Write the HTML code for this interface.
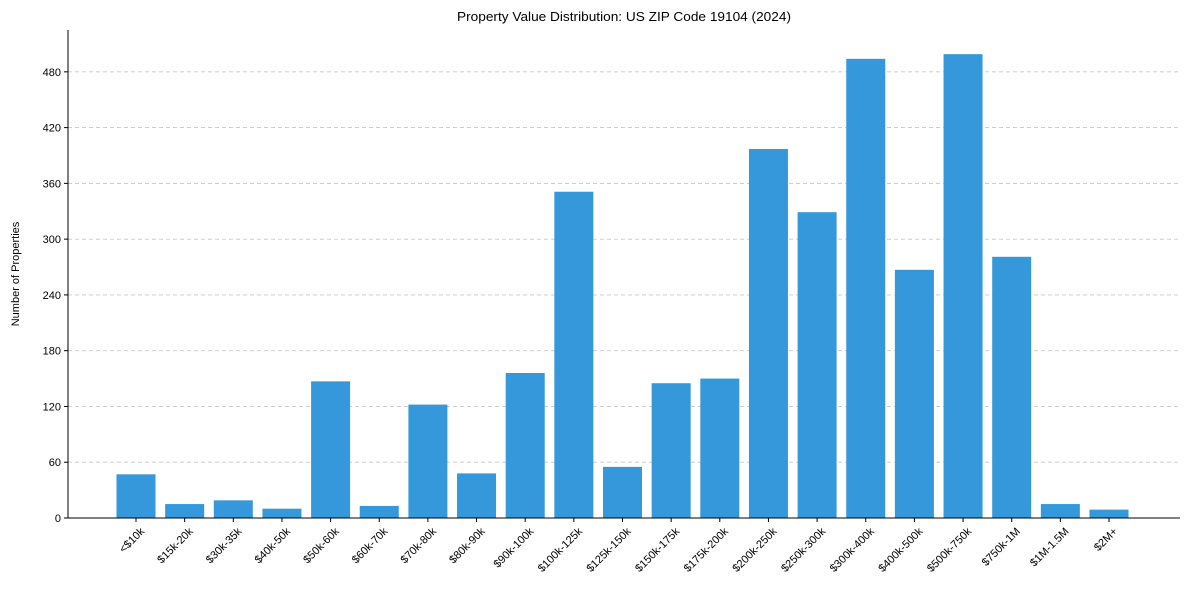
<!DOCTYPE html>
<html><head><meta charset="utf-8"><style>
body{margin:0;background:#fff;font-family:"Liberation Sans",Arial,sans-serif;}
svg text{font-family:"Liberation Sans",Arial,sans-serif;fill:#000;}
</style></head><body>
<svg id="chart" width="1189" height="590" xmlns="http://www.w3.org/2000/svg">
<text x="624" y="21" font-size="12.5" text-anchor="middle" textLength="334" lengthAdjust="spacingAndGlyphs">Property Value Distribution: US ZIP Code 19104 (2024)</text>
<text transform="translate(19,274) rotate(-90)" font-size="11" text-anchor="middle">Number of Properties</text>
<g id="grid"></g><g id="bars"></g><g id="axes"></g>
</svg>
<script>
const categories=["<$10k","$15k-20k","$30k-35k","$40k-50k","$50k-60k","$60k-70k","$70k-80k","$80k-90k","$90k-100k","$100k-125k","$125k-150k","$150k-175k","$175k-200k","$200k-250k","$250k-300k","$300k-400k","$400k-500k","$500k-750k","$750k-1M","$1M-1.5M","$2M+"];
const counts=[47,15,19,10,147,13,122,48,156,351,55,145,150,397,329,494,267,499,281,15,9];
const yTicks=[0,60,120,180,240,300,360,420,480];
const NS="http://www.w3.org/2000/svg";
const L=68,R=1180,B=518,T=30,yMax=525;
const y=v=>B-v/yMax*(B-T);
const x=i=>136+i*48.65;
const bw=39;
function mk(t,a,p){const e=document.createElementNS(NS,t);for(const k in a)e.setAttribute(k,a[k]);p.appendChild(e);return e;}
const grid=document.getElementById('grid'),bars=document.getElementById('bars'),axes=document.getElementById('axes');
yTicks.forEach(v=>{
 if(v>0){const g=mk('line',{x1:L,x2:R,y1:y(v),y2:y(v),stroke:'#c8c8c8','stroke-dasharray':'4,3','stroke-width':0.9},grid);
 
 }
 const tk=mk('line',{x1:L-4,x2:L,y1:y(v),y2:y(v),stroke:'#000'},axes);
 
 
 const t=mk('text',{x:L-7,y:y(v)+4,'font-size':11,'text-anchor':'end'},axes);t.textContent=v;
 
 
});
counts.forEach((c,i)=>{
 const r=mk('rect',{x:x(i)-bw/2,y:y(c),width:bw,height:B-y(c),fill:'#3498db'},bars);
 
 
 const tk=mk('line',{x1:x(i),x2:x(i),y1:B,y2:B+4,stroke:'#000'},axes);
 
 
 const t=mk('text',{transform:`translate(${x(i)+9},${B+14}) rotate(-45)`,'font-size':11,'text-anchor':'end'},axes);t.textContent=categories[i];
 
 
});
const ya=mk('line',{x1:L,x2:L,y1:T,y2:B,stroke:'#000'},axes);


const xa=mk('line',{x1:L,x2:R,y1:B,y2:B,stroke:'#000'},axes);


</script>
</body></html>
